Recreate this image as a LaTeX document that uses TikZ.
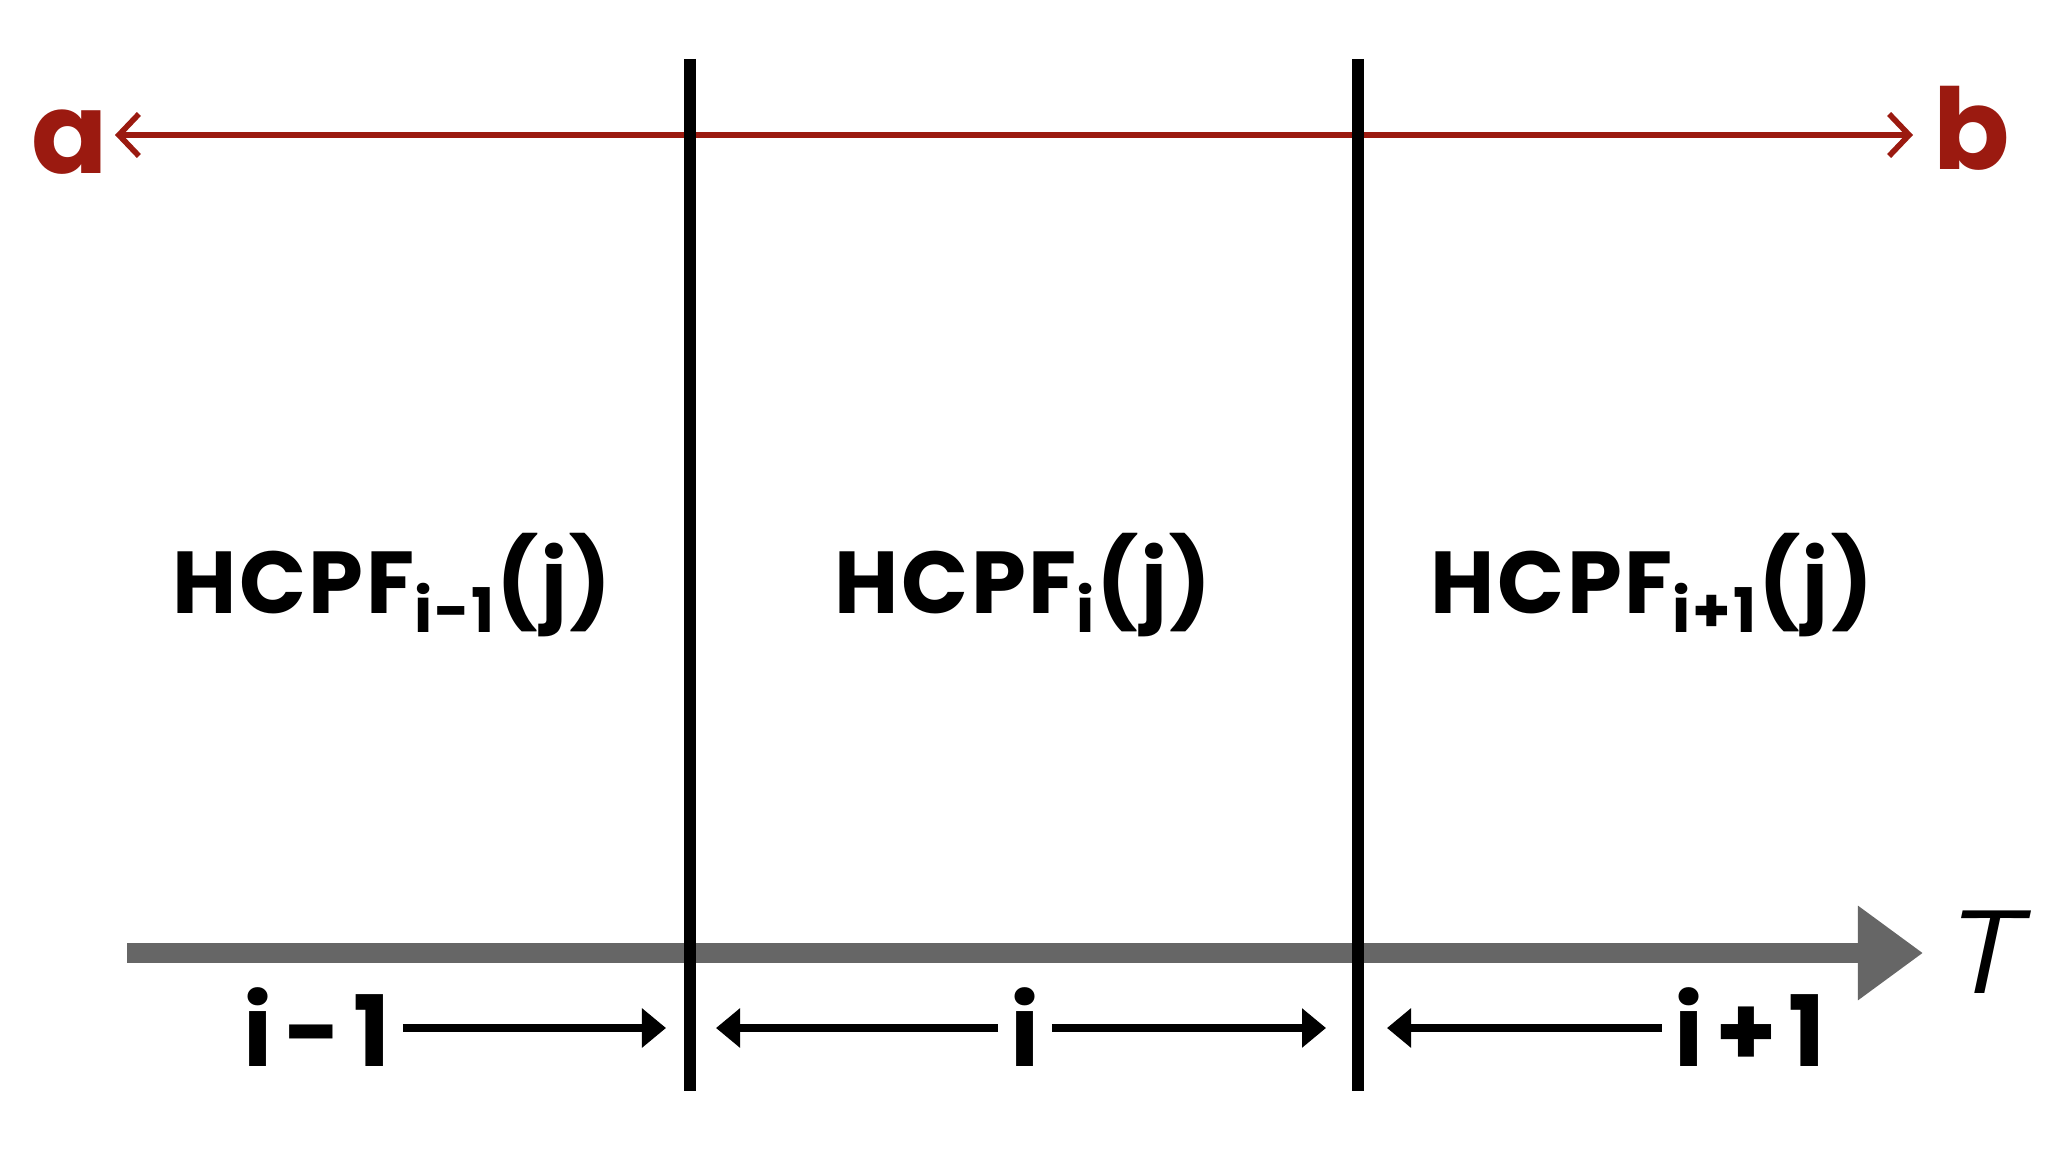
\documentclass[tikz,border=0pt]{standalone}
\usepackage{fontspec}
\setmainfont{Poppins}
\usetikzlibrary{arrows.meta}
\definecolor{chalkred}{HTML}{9B1A10}
\definecolor{chalkgray}{HTML}{666666}
\tikzset{
  divider/.style={line width=3.4pt, black},
  span/.style={line width=2pt, -{Triangle[length=0.24cm,width=0.38cm]}},
  cell/.style={font=\bfseries\fontsize{25}{30}\selectfont\addfontfeatures{LetterSpace=3}},
  idx/.style={font=\bfseries\fontsize{28}{34}\selectfont\addfontfeatures{LetterSpace=12}},
  ends/.style={text=chalkred, font=\bfseries\fontsize{32}{36}\selectfont},
}
\begin{document}
\begin{tikzpicture}[x=0.01cm, y=-0.01cm]
      \useasboundingbox[fill=white] (0,0) rectangle (2048,1152);
      %
      \coordinate (d1t) at (690,59);
      \coordinate (d1b) at (690,1091);
      \coordinate (d2t) at (1358,59);
      \coordinate (d2b) at (1358,1091);
      %
      \node[ends] (a) at (70,142) {a};
      \node[ends] (b) at (1972,128) {b};
      \coordinate (ra) at (115,135);
      \coordinate (rb) at (1913,135);
      \draw[chalkred, line width=1.6pt,
        {Straight Barb[length=0.2cm,width=0.42cm]}-{Straight Barb[length=0.2cm,width=0.42cm]}]
        (ra) -- (rb);
      %
      \coordinate (t0) at (127,953);
      \coordinate (t1) at (1923,953);
      \draw[chalkgray, line width=5.5pt, -{Triangle[length=0.65cm,width=0.9cm]}] (t0) -- (t1);
      \node[font=\sffamily\slshape\fontsize{34}{38}\selectfont] (T) at (1980,952) {T};
      %
      \draw[divider] (d1t) -- (d1b);
      \draw[divider] (d2t) -- (d2b);
      %
      \node[cell] (hprev) at (392,585) {HCPF\textsubscript{i-1}(j)};
      \node[cell] (hcur) at (1023,585) {HCPF\textsubscript{i}(j)};
      \node[cell] (hnext) at (1652,585) {HCPF\textsubscript{i+1}(j)};
      %
      \node[idx] (iprev) at (317,1027) {i-1};
      \node[idx] (icur) at (1025,1027) {i};
      \node[idx] (inext) at (1750,1027) {i+1};
      \coordinate (e1) at (666,1028);
      \coordinate (e2) at (716,1028);
      \coordinate (e3) at (1326,1028);
      \coordinate (e4) at (1387,1028);
      \draw[span] (iprev.east |- e1) -- (e1);
      \draw[span] (icur.west |- e2) -- (e2);
      \draw[span] (icur.east |- e3) -- (e3);
      \draw[span] (inext.west |- e4) -- (e4);
      %
    \end{tikzpicture}
\end{document}
